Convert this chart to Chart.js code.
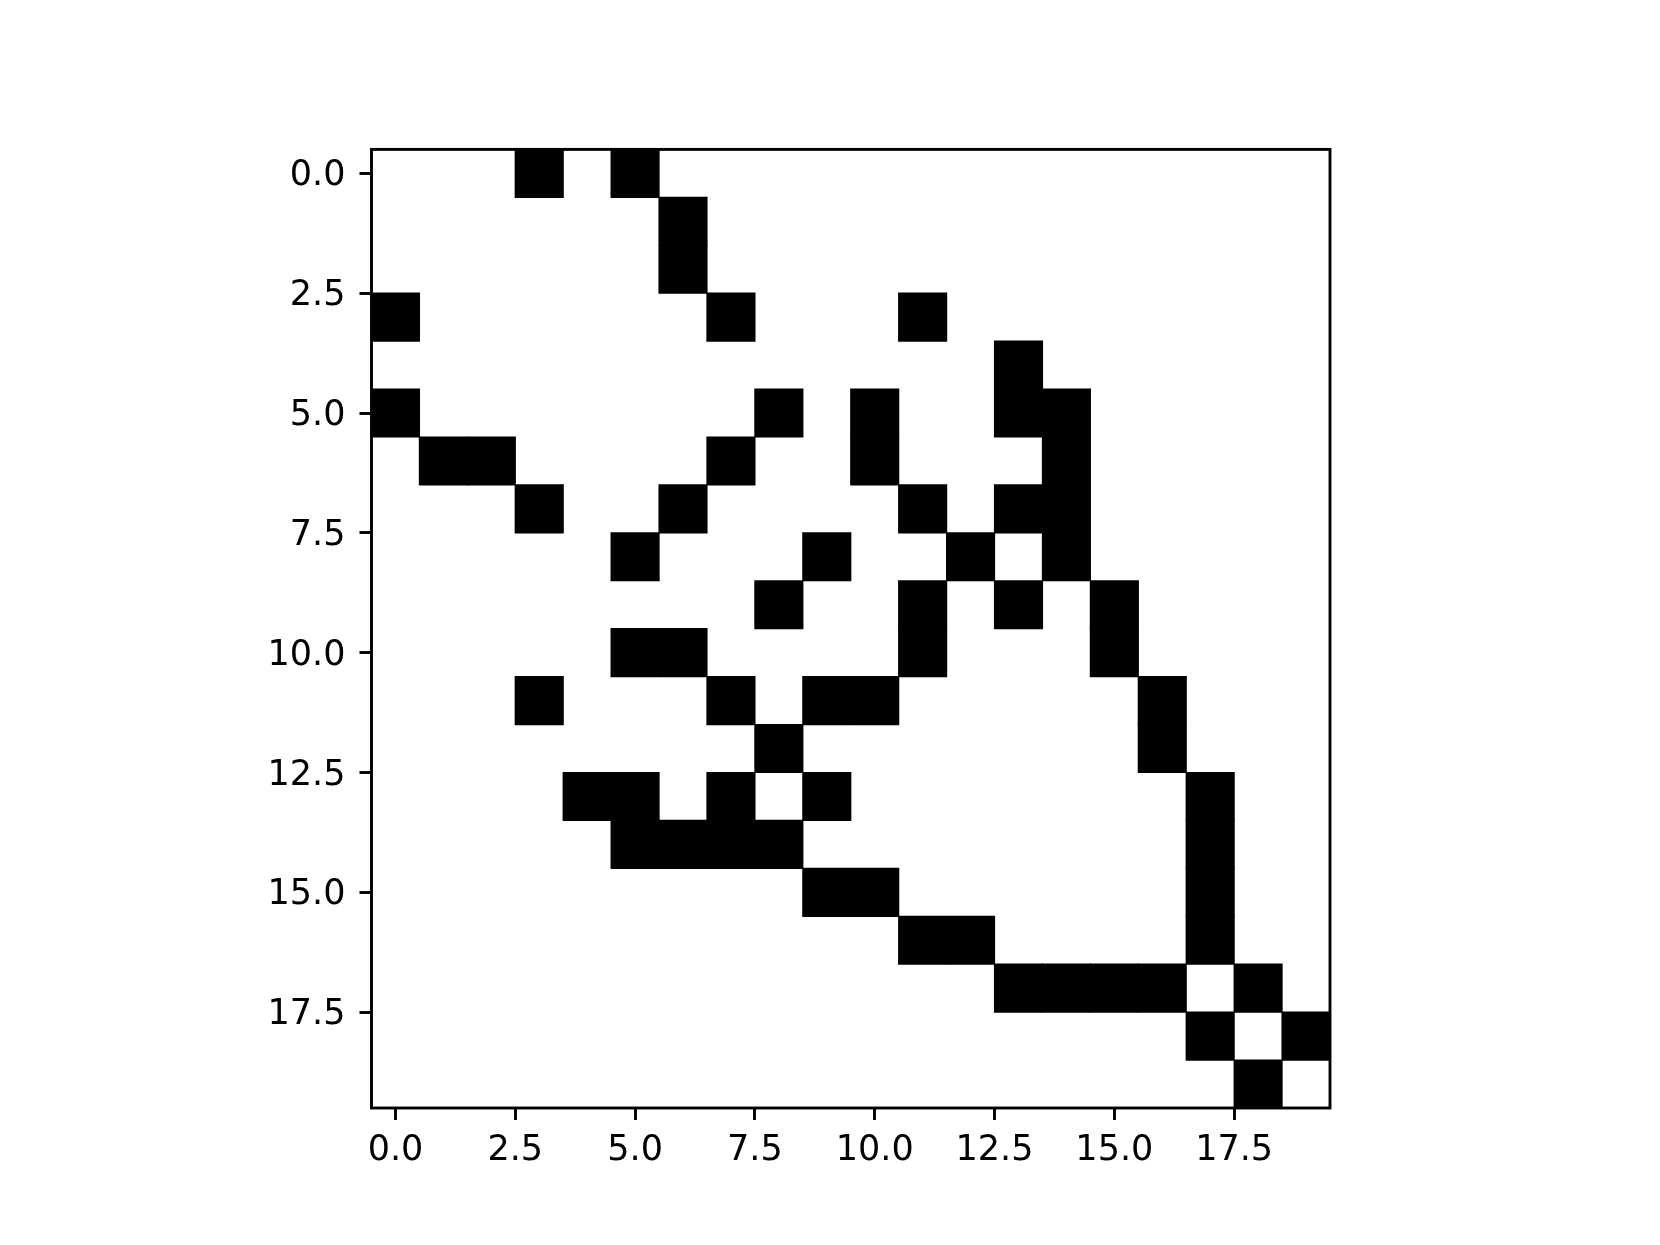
<!DOCTYPE html>
<html>
<head>
  <meta charset="UTF-8" />
  <title>Matrix</title>
  <script src="https://cdn.jsdelivr.net/npm/chart.js"></script>
  <style>
    * { margin: 0; padding: 0; }
    body { background: white; width: 1660px; height: 1245px; overflow: hidden; }
    canvas { display: block; }
  </style>
</head>
<body>
  <canvas id="matrixChart" width="1660" height="1245"></canvas>

<script>
  // 20x20 binary matrix, row by row (1 = black cell)
  const matrix = [
    [0,0,0,1,0,1,0,0,0,0,0,0,0,0,0,0,0,0,0,0],
    [0,0,0,0,0,0,1,0,0,0,0,0,0,0,0,0,0,0,0,0],
    [0,0,0,0,0,0,1,0,0,0,0,0,0,0,0,0,0,0,0,0],
    [1,0,0,0,0,0,0,1,0,0,0,1,0,0,0,0,0,0,0,0],
    [0,0,0,0,0,0,0,0,0,0,0,0,0,1,0,0,0,0,0,0],
    [1,0,0,0,0,0,0,0,1,0,1,0,0,1,1,0,0,0,0,0],
    [0,1,1,0,0,0,0,1,0,0,1,0,0,0,1,0,0,0,0,0],
    [0,0,0,1,0,0,1,0,0,0,0,1,0,1,1,0,0,0,0,0],
    [0,0,0,0,0,1,0,0,0,1,0,0,1,0,1,0,0,0,0,0],
    [0,0,0,0,0,0,0,0,1,0,0,1,0,1,0,1,0,0,0,0],
    [0,0,0,0,0,1,1,0,0,0,0,1,0,0,0,1,0,0,0,0],
    [0,0,0,1,0,0,0,1,0,1,1,0,0,0,0,0,1,0,0,0],
    [0,0,0,0,0,0,0,0,1,0,0,0,0,0,0,0,1,0,0,0],
    [0,0,0,0,1,1,0,1,0,1,0,0,0,0,0,0,0,1,0,0],
    [0,0,0,0,0,1,1,1,1,0,0,0,0,0,0,0,0,1,0,0],
    [0,0,0,0,0,0,0,0,0,1,1,0,0,0,0,0,0,1,0,0],
    [0,0,0,0,0,0,0,0,0,0,0,1,1,0,0,0,0,1,0,0],
    [0,0,0,0,0,0,0,0,0,0,0,0,0,1,1,1,1,0,1,0],
    [0,0,0,0,0,0,0,0,0,0,0,0,0,0,0,0,0,1,0,1],
    [0,0,0,0,0,0,0,0,0,0,0,0,0,0,0,0,0,0,1,0]
  ];
  const xTicks = [0, 2.5, 5, 7.5, 10, 12.5, 15, 17.5];
  const yTicks = [0, 2.5, 5, 7.5, 10, 12.5, 15, 17.5];

  // each black cell -> floating horizontal bar spanning its column
  const cells = [];
  matrix.forEach((row, r) => {
    row.forEach((v, c) => {
      if (v) cells.push({ y: r, x: [c - 0.5, c + 0.5] });
    });
  });

  const frame = {
    id: 'frame',
    afterDraw(chart) {
      const a = chart.chartArea;
      const ctx = chart.ctx;
      ctx.save();
      ctx.strokeStyle = '#000';
      ctx.lineWidth = 2.9;
      ctx.strokeRect(a.left, a.top, a.right - a.left, a.bottom - a.top);
      ctx.restore();
    }
  };

  const tickFont = { family: 'DejaVu Sans', size: 35 };

  new Chart(document.getElementById('matrixChart'), {
    type: 'bar',
    data: {
      datasets: [{
        data: cells,
        backgroundColor: '#000',
        borderWidth: 0,
        inflateAmount: 0.6,
        categoryPercentage: 1,
        barPercentage: 1
      }]
    },
    options: {
      indexAxis: 'y',
      responsive: false,
      animation: false,
      layout: { padding: { left: 0, top: 149.4, right: 330, bottom: 0 } },
      plugins: { legend: { display: false }, tooltip: { enabled: false } },
      scales: {
        x: {
          type: 'linear',
          position: 'bottom',
          min: -0.5,
          max: 19.5,
          offset: false,
          afterBuildTicks: s => { s.ticks = xTicks.map(v => ({ value: v })); },
          afterFit: s => { s.height = 1245 - 1108; },
          ticks: {
            color: '#000',
            font: tickFont,
            padding: 10,
            maxRotation: 0,
            autoSkip: false,
            callback: v => Number(v).toFixed(1)
          },
          grid: { offset: false, drawOnChartArea: false, drawTicks: true, tickLength: 12, tickWidth: 2.9, color: '#000' },
          border: { display: false }
        },
        y: {
          type: 'linear',
          position: 'left',
          reverse: true,
          min: -0.5,
          max: 19.5,
          offset: false,
          afterBuildTicks: s => { s.ticks = yTicks.map(v => ({ value: v })); },
          afterFit: s => { s.width = 371.5; },
          ticks: {
            color: '#000',
            font: tickFont,
            padding: 14,
            labelOffset: 3,
            autoSkip: false,
            callback: v => Number(v).toFixed(1)
          },
          grid: { offset: false, drawOnChartArea: false, drawTicks: true, tickLength: 12, tickWidth: 2.9, color: '#000' },
          border: { display: false }
        }
      }
    },
    plugins: [frame]
  });
</script>
</body>
</html>
